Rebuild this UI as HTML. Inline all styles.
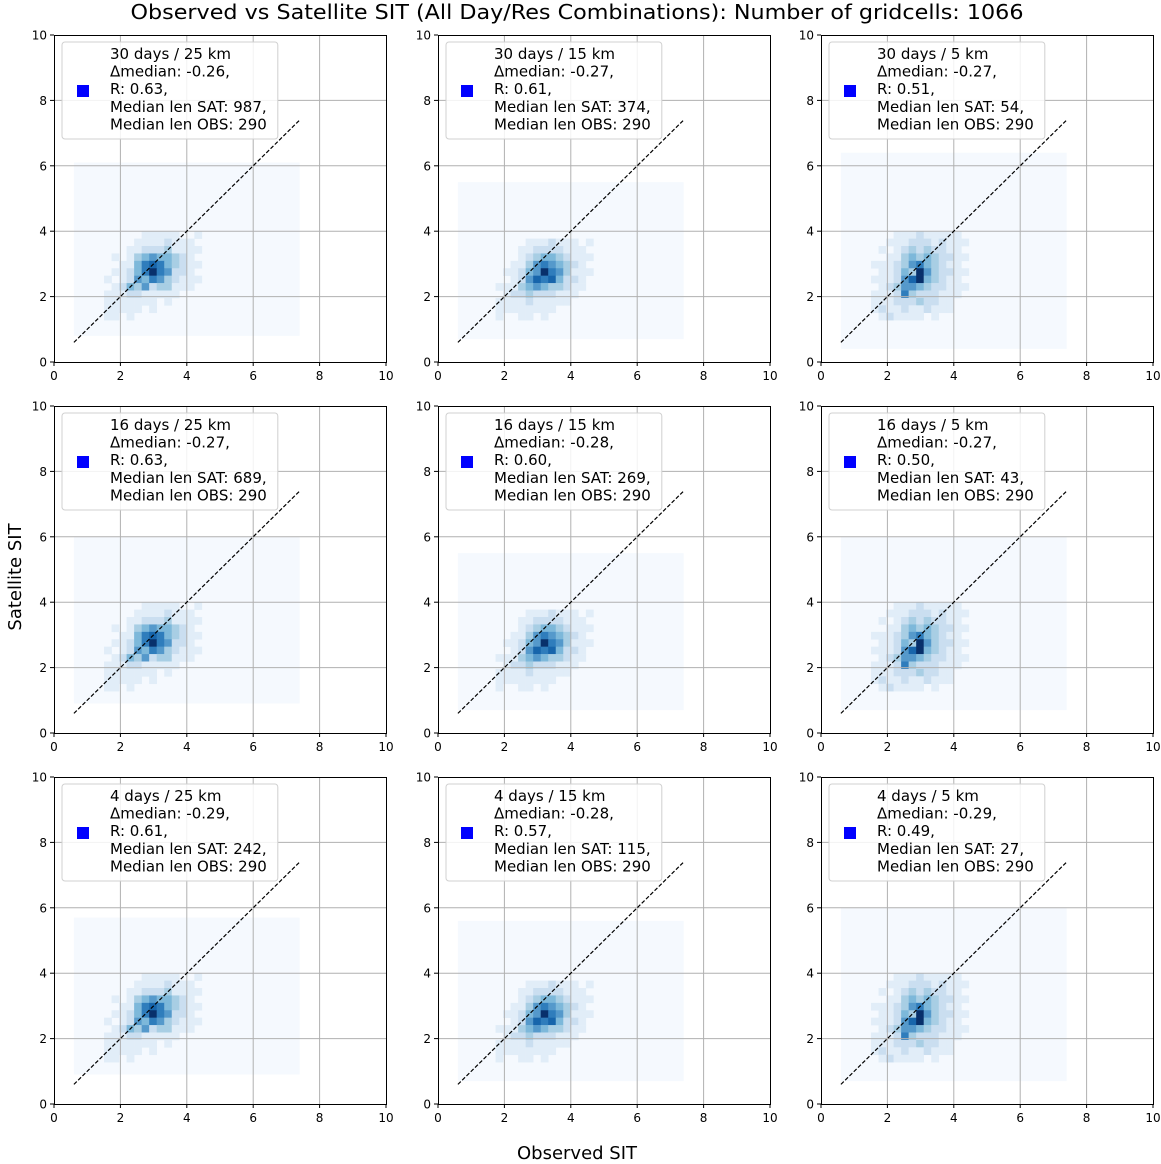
<!DOCTYPE html>
<html><head><meta charset="utf-8"><style>
body{margin:0;background:#fff;font-family:"DejaVu Sans",sans-serif}
svg text{font-family:"DejaVu Sans",sans-serif}
</style></head><body>
<svg id="fig" width="1161" height="1160" xmlns="http://www.w3.org/2000/svg">
<text x="577" y="19" font-size="20" text-anchor="middle" textLength="893" lengthAdjust="spacingAndGlyphs">Observed vs Satellite SIT (All Day/Res Combinations): Number of gridcells: 1066</text>
<text x="577" y="1159" font-size="18" text-anchor="middle">Observed SIT</text>
<text transform="translate(15,577) rotate(-90)" font-size="18" text-anchor="middle" dy="6">Satellite SIT</text>
</svg>
<script>
const labels=["30 days / 25 km","30 days / 15 km","30 days / 5 km","16 days / 25 km","16 days / 15 km","16 days / 5 km","4 days / 25 km","4 days / 15 km","4 days / 5 km"];
const dmedian=["-0.26","-0.27","-0.27","-0.27","-0.28","-0.27","-0.29","-0.28","-0.29"];
const rvals=["0.63","0.61","0.51","0.63","0.60","0.50","0.61","0.57","0.49"];
const lenSat=[987,374,54,689,269,43,242,115,27];
const lenObs=[290,290,290,290,290,290,290,290,290];
const histYMin=[0.8,0.7,0.4,0.9,0.7,0.7,0.9,0.7,0.7];
const histYMax=[6.1,5.5,6.4,6.0,5.5,6.0,5.7,5.6,6.0];
const originI=[4,5,4,4,5,4,4,5,4];
const topJ=[14,13,14,14,13,14,14,13,14];
const tmplIdx=[0,1,2,0,1,2,0,1,2];
const tickVals=[0,2,4,6,8,10];
const templates=[
[[0,0,0,0,0,1,1,1,1,1,0,0,1],[0,0,0,0,1,1,1,1,2,1,1,1,0],[0,0,0,1,1,2,2,2,3,1,1,1,1],[0,1,0,1,3,4,5,4,4,3,2,1,0],[0,0,1,1,4,6,7,6,4,3,2,1,1],[0,1,1,2,4,6,8,6,5,2,2,1,0],[1,0,1,2,5,4,6,5,3,2,1,1,1],[0,1,2,4,3,5,2,3,3,1,1,1,0],[1,1,1,2,2,1,1,1,1,1,0,0,0],[1,1,1,1,1,1,1,0,1,0,0,0,0],[1,1,1,1,1,0,1,0,0,0,0,0,0],[1,1,0,1,0,0,0,0,0,0,0,0,0]],
[[0,0,0,0,1,1,1,2,1,1,1,0,1],[0,0,0,1,1,2,2,2,2,1,1,1,0],[0,0,0,1,2,3,4,4,3,2,1,1,1],[0,0,1,1,3,5,6,5,4,3,2,1,0],[0,1,1,2,4,5,8,6,5,3,1,1,1],[0,0,1,2,5,7,6,7,4,2,2,1,0],[1,1,1,3,4,5,4,3,3,2,1,1,0],[0,1,2,2,3,2,2,2,1,1,1,0,0],[1,1,1,1,2,1,1,1,1,1,0,0,0],[1,1,1,1,1,1,1,1,0,0,0,0,0],[1,0,0,1,1,0,1,0,0,0,0,0,0]],
[[0,0,0,1,1,1,2,1,1,1,1,1,0],[0,0,1,1,1,2,2,2,1,2,1,1,1],[0,1,0,1,2,3,2,3,2,2,1,1,0],[0,0,1,1,3,4,3,4,3,2,2,1,1],[1,1,1,2,3,5,6,4,3,2,1,1,0],[0,1,1,2,4,3,8,5,3,2,2,1,1],[1,1,1,2,5,7,8,4,3,2,1,1,0],[0,1,2,3,5,5,4,3,2,2,1,1,1],[1,1,1,2,6,3,2,2,2,1,1,1,0],[1,1,1,2,2,2,3,2,2,1,1,0,0],[1,2,1,1,2,1,1,2,1,1,1,0,0],[0,1,2,1,1,1,1,0,1,0,0,0,0]]
];
const cmap=["#f5f9fe","#e1edf8","#cadef0","#a8cee4","#7db8da","#5599cb","#2f7dbc","#1765ab","#08306b"];
const svg=document.getElementById('fig');
const NS="http://www.w3.org/2000/svg";
const colX=[54,438,821], rowY=[35,406,777], W=332, H=327, BW=6.8/30;
function mk(tag,attrs,parent){const e=document.createElementNS(NS,tag);for(const k in attrs)e.setAttribute(k,attrs[k]);(parent||svg).appendChild(e);return e;}
for(let p=0;p<9;p++){
  const ox=colX[p%3], oy=rowY[Math.floor(p/3)];
  const sx=v=>ox+v/10*W, sy=v=>oy+H-v/10*H;
  const g=mk('g',{});
  
  
  const bg=mk('rect',{x:sx(0.6),y:sy(histYMax[p]),width:sx(7.4)-sx(0.6),height:sy(histYMin[p])-sy(histYMax[p]),fill:cmap[0]},g);
  
  
  const T=templates[tmplIdx[p]];
  T.forEach((row,r)=>row.forEach((v,c)=>{
    if(!v)return;
    const i=originI[p]+c, j=topJ[p]-r;
    const x0=0.6+i*BW, y0=0.6+j*BW;
    const cell=mk('rect',{x:sx(x0),y:sy(y0+BW),width:sx(x0+BW)-sx(x0)+0.3,height:sy(y0)-sy(y0+BW)+0.3,fill:cmap[v]},g);
    
    
  }));
  tickVals.forEach(t=>{
    if(t>0&&t<10){
      mk('line',{x1:sx(t),x2:sx(t),y1:oy,y2:oy+H,stroke:'#b0b0b0','stroke-width':1},g);
      mk('line',{x1:ox,x2:ox+W,y1:sy(t),y2:sy(t),stroke:'#b0b0b0','stroke-width':1},g);
    }
    mk('line',{x1:sx(t),x2:sx(t),y1:oy+H,y2:oy+H+4,stroke:'#000'},g);
    mk('line',{x1:ox-4,x2:ox,y1:sy(t),y2:sy(t),stroke:'#000'},g);
    const xt=mk('text',{x:sx(t),y:oy+H+18,'font-size':12,'text-anchor':'middle'},g);xt.textContent=t;
    
    
    const yt=mk('text',{x:ox-7,y:sy(t)+4.5,'font-size':12,'text-anchor':'end'},g);yt.textContent=t;
    
    
  });
  const d=mk('line',{x1:sx(0.6),y1:sy(0.6),x2:sx(7.4),y2:sy(7.4),stroke:'#000','stroke-width':1.2,'stroke-dasharray':'4,2'},g);
  
  
  mk('rect',{x:ox+0.5,y:oy+0.5,width:W,height:H,fill:'none',stroke:'#000','stroke-width':1},g);
  const lines=[labels[p],'Δmedian: '+dmedian[p]+',','R: '+rvals[p]+',','Median len SAT: '+lenSat[p]+',','Median len OBS: '+lenObs[p]];
  const lg=mk('g',{},g);
  
  
  const box=mk('rect',{x:ox+8,y:oy+7,width:100,height:97,rx:3,fill:'#fff','fill-opacity':0.85,stroke:'#d0d0d0'},lg);
  mk('rect',{x:ox+23,y:oy+50,width:12,height:12,fill:'#0000ff'},lg);
  let maxw=0;
  lines.forEach((s,k)=>{const t=mk('text',{x:ox+56,y:oy+24+k*17.6,'font-size':15},lg);t.textContent=s;maxw=Math.max(maxw,t.getComputedTextLength());});
  box.setAttribute('width',56+maxw+11-8);
}
</script>
</body></html>
